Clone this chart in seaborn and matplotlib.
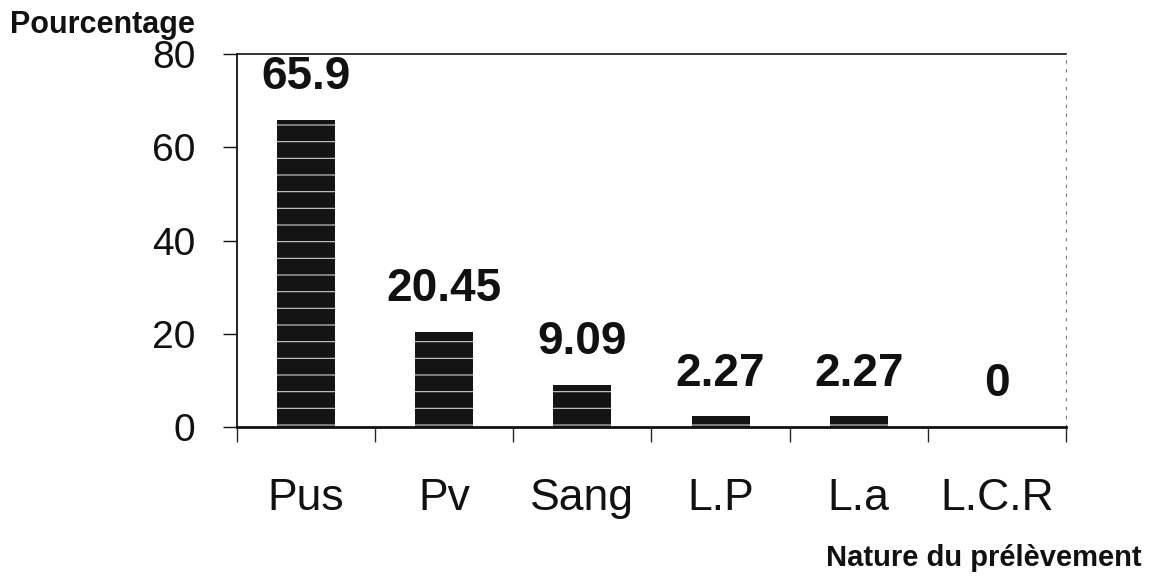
import matplotlib
matplotlib.use("Agg")
import matplotlib.pyplot as plt
import seaborn as sns
import pandas as pd

categories = ["Pus", "Pv", "Sang", "L.P", "L.a", "L.C.R"]
values = [65.9, 20.45, 9.09, 2.27, 2.27, 0]
y_ticks = [0, 20, 40, 60, 80]

sns.set_style("white")
plt.rcParams['font.family'] = ['Liberation Sans', 'DejaVu Sans']
plt.rcParams['hatch.linewidth'] = 0.8

df = pd.DataFrame({"cat": categories, "val": values})

fig = plt.figure(figsize=(11.57, 5.81), dpi=100)
ax = fig.add_axes([0.2048, 0.265, 0.9213 - 0.2048, 0.907 - 0.265])

sns.barplot(data=df, x="cat", y="val", color="#141414", width=0.42,
            saturation=1, ax=ax, errorbar=None)
for p in ax.patches:
    p.set_hatch('-')
    p.set_edgecolor('#d0d0d0')
    p.set_linewidth(0)

ax.bar_label(ax.containers[0], labels=[f"{v:g}" for v in values],
             padding=15, fontsize=33, fontweight='bold', color='#111111')

ax.set_xlim(-0.5, len(categories) - 0.5)
ax.set_ylim(0, 80)
ax.set_yticks(y_ticks)
ax.set_yticklabels([str(t) for t in y_ticks], fontsize=28)
ax.tick_params(axis='y', direction='out', length=10, width=1, pad=20, left=True, colors='#111111')
ax.set_xticks(range(len(categories)))
ax.set_xticklabels(categories, fontsize=32)
ax.tick_params(axis='x', which='major', length=0, pad=37, colors='#111111')
ax.set_xticks([i - 0.5 for i in range(len(categories) + 1)], minor=True)
ax.tick_params(axis='x', which='minor', direction='out', length=11, width=1, bottom=True)

ax.set_xlabel("")
ax.set_ylabel("")
for s in ['left', 'bottom', 'top']:
    ax.spines[s].set_color('#111111')
ax.spines['left'].set_linewidth(1.3)
ax.spines['bottom'].set_linewidth(2)
ax.spines['top'].set_linewidth(1.2)
ax.spines['right'].set_color('#777777')
ax.spines['right'].set_linewidth(0.8)
ax.spines['right'].set_linestyle((0, (2, 6)))

fig.text(10 / 1157, 1 - 33 / 581, "Pourcentage", fontsize=22, fontweight='bold',
         ha='left', va='baseline', color='#111111')
fig.text(1142 / 1157, 1 - 566 / 581, "Nature du prélèvement", fontsize=21, fontweight='bold',
         ha='right', va='baseline', color='#111111')

fig.savefig("out.png", dpi=100)
